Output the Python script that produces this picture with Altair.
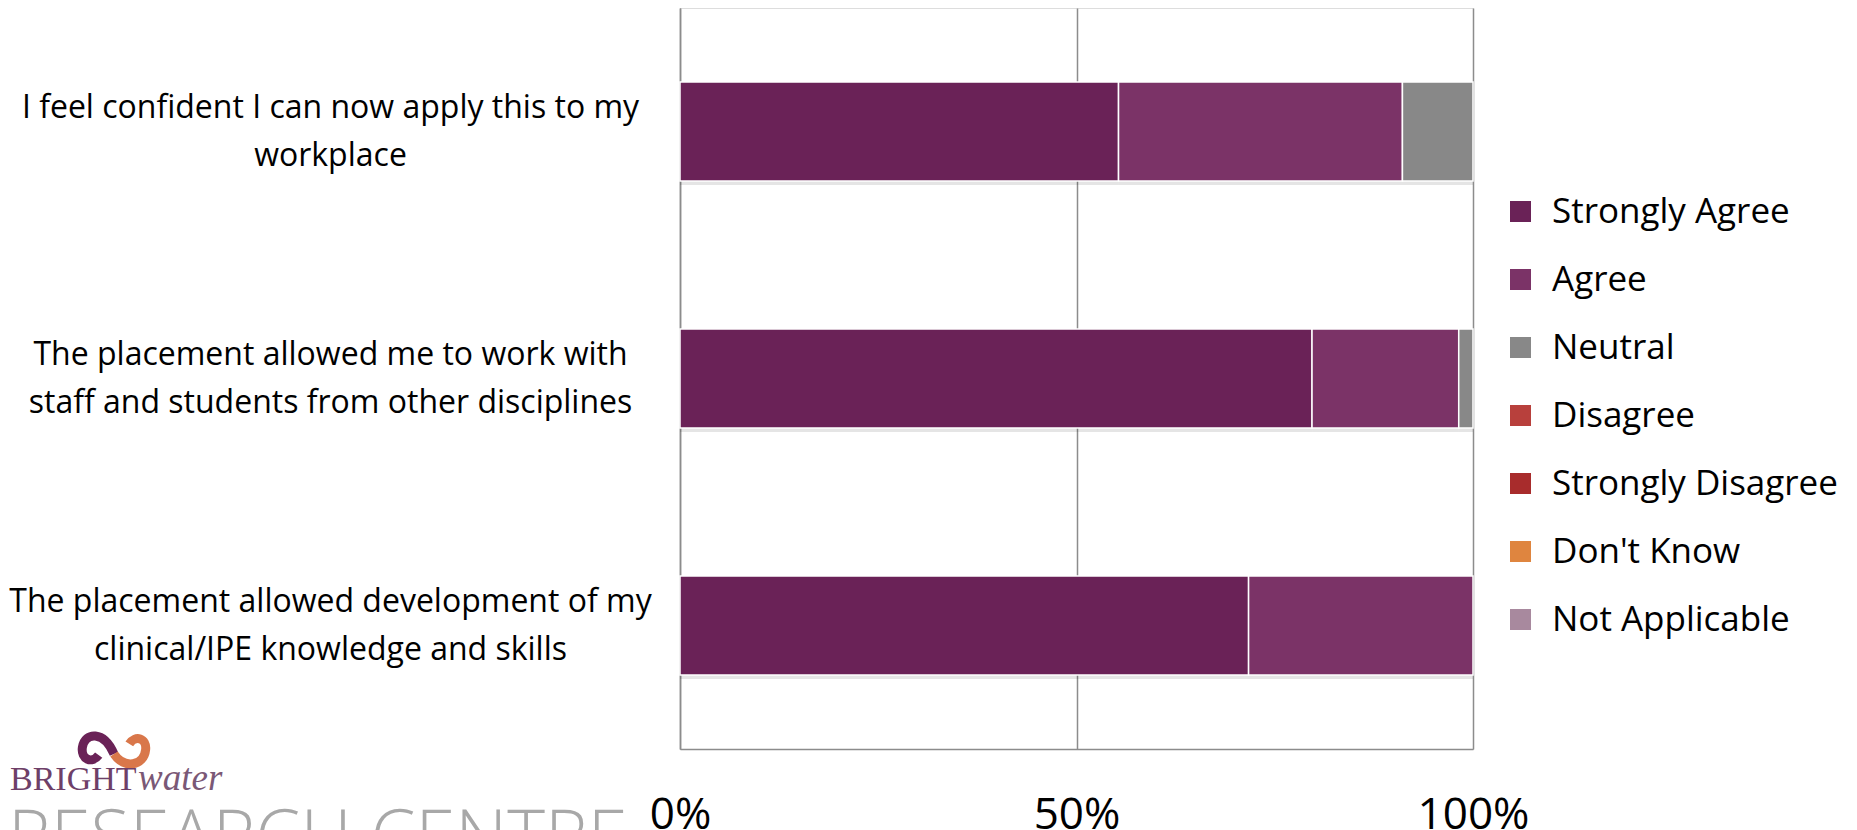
import json
import altair as alt
import pandas as pd

# ---- data -------------------------------------------------------------
statements = [
    "I feel confident I can now apply this to my workplace",
    "The placement allowed me to work with staff and students from other disciplines",
    "The placement allowed development of my clinical/IPE knowledge and skills",
]
statement_lines = [
    ["I feel confident I can now apply this to my", "workplace"],
    ["The placement allowed me to work with", "staff and students from other disciplines"],
    ["The placement allowed development of my", "clinical/IPE knowledge and skills"],
]
responses = ["Strongly Agree", "Agree", "Neutral", "Disagree",
             "Strongly Disagree", "Don't Know", "Not Applicable"]
colors = ["#6a2257", "#7b3367", "#888888", "#b8403c",
          "#a82c2c", "#df853f", "#a8899e"]

strongly_agree = [0.553, 0.797, 0.717]
agree = [0.358, 0.185, 0.283]
neutral = [0.089, 0.018, 0.0]
disagree = [0.0, 0.0, 0.0]
strongly_disagree = [0.0, 0.0, 0.0]
dont_know = [0.0, 0.0, 0.0]
not_applicable = [0.0, 0.0, 0.0]

x_ticks = [0, 0.5, 1]

logo_top = "BRIGHT"
logo_italic = "water"
logo_bottom = "RESEARCH CENTRE"

# ---- table ------------------------------------------------------------
series = [strongly_agree, agree, neutral, disagree,
          strongly_disagree, dont_know, not_applicable]
rows = []
for si, stmt in enumerate(statements):
    for ri, resp in enumerate(responses):
        v = series[ri][si]
        if v > 0:
            rows.append({"statement": stmt, "response": resp,
                         "order": ri, "share": v})
df = pd.DataFrame(rows)

label_expr = "datum.value"
for stmt, lines in reversed(list(zip(statements, statement_lines))):
    label_expr = f"datum.value == {json.dumps(stmt)} ? {json.dumps(lines)} : ({label_expr})"

FONT = "Open Sans"
GRID = "#8c8c8c"

y_enc = alt.Y(
    "statement:N",
    sort=statements,
    title=None,
    scale=alt.Scale(paddingInner=0.6, paddingOuter=0.3),
    axis=alt.Axis(
        labelExpr=label_expr,
        labelAlign="center",
        labelBaseline="middle",
        labelPadding=350,
        labelOffset=-24,
        labelFont=FONT,
        labelFontSize=32,
        labelLineHeight=48,
        labelColor="#000000",
        labelLimit=2000,
        ticks=False,
        tickSize=0,
        domain=True,
        domainColor=GRID,
        domainWidth=1.5,
        grid=False,
    ),
)

x_enc = alt.X(
    "share:Q",
    stack="zero",
    title=None,
    scale=alt.Scale(domain=[0, 1], nice=False),
    axis=alt.Axis(
        values=x_ticks,
        format=".0%",
        labelFont=FONT,
        labelFontSize=44,
        labelColor="#000000",
        labelPadding=44,
        labelFlush=False,
        ticks=False,
        tickSize=0,
        domain=True,
        domainColor=GRID,
        domainWidth=1.5,
        grid=True,
        gridColor=GRID,
        gridWidth=1.5,
    ),
)

shadow = alt.Chart(df).mark_bar(color="#000000", opacity=0.10, yOffset=4).encode(
    x=x_enc,
    y=y_enc,
    detail="response:N",
    order=alt.Order("order:Q", sort="ascending"),
)

bars = alt.Chart(df).mark_bar(stroke="#ffffff", strokeWidth=1.5).encode(
    x=x_enc,
    y=y_enc,
    color=alt.Color(
        "response:N",
        scale=alt.Scale(domain=responses, range=colors),
        legend=alt.Legend(
            title=None,
            orient="none",
            legendX=823,
            legendY=186,
            padding=0,
            symbolType="square",
            symbolSize=441,
            symbolStrokeWidth=0,
            symbolOpacity=1,
            labelFont=FONT,
            labelFontSize=35,
            labelColor="#000000",
            labelOffset=14,
            rowPadding=32,
            labelLimit=600,
        ),
    ),
    order=alt.Order("order:Q", sort="ascending"),
)

# ---- logo (decoration) -----------------------------------------------
one = pd.DataFrame({"t": [0]})
swirl_left = alt.Chart(one).mark_point(
    shape="M0,0.15 C-0.3,-0.55 -0.85,-0.5 -0.93,-0.05 C-0.98,0.3 -0.65,0.45 -0.45,0.18",
    filled=False, stroke="#6a2257", strokeWidth=9, opacity=1, size=4624,
).encode(x=alt.value(-566), y=alt.value(741))
swirl_right = alt.Chart(one).mark_point(
    shape="M0,0.15 C0.3,0.6 0.88,0.5 0.93,0.02 C0.97,-0.32 0.62,-0.42 0.45,-0.15",
    filled=False, stroke="#d9774a", strokeWidth=9, opacity=1, size=4624,
).encode(x=alt.value(-566), y=alt.value(741))
bright = alt.Chart(one).mark_text(
    text=logo_top, align="left", baseline="alphabetic",
    font="Liberation Serif", fontSize=34, color="#6e3f68",
).encode(x=alt.value(-670), y=alt.value(782))
water = alt.Chart(one).mark_text(
    text=logo_italic, align="left", baseline="alphabetic",
    font="Liberation Serif", fontStyle="italic", fontSize=37, color="#7a5876",
).encode(x=alt.value(-542), y=alt.value(782))
research = alt.Chart(one).mark_text(
    text=logo_bottom, align="left", baseline="alphabetic",
    font=FONT, fontWeight=300, fontSize=72, color="#a8a8a8",
).encode(x=alt.value(-672), y=alt.value(853))

chart = alt.layer(shadow, bars, swirl_left, swirl_right, bright, water, research).properties(
    width=793,
    height=741,
    autosize=alt.AutoSizeParams(type="none"),
    padding={"left": 672, "top": 0, "right": 376, "bottom": 81},
).configure_view(strokeWidth=0).configure(background="#ffffff")

chart.save("out.html", embed_options={"renderer": "svg", "actions": False})
